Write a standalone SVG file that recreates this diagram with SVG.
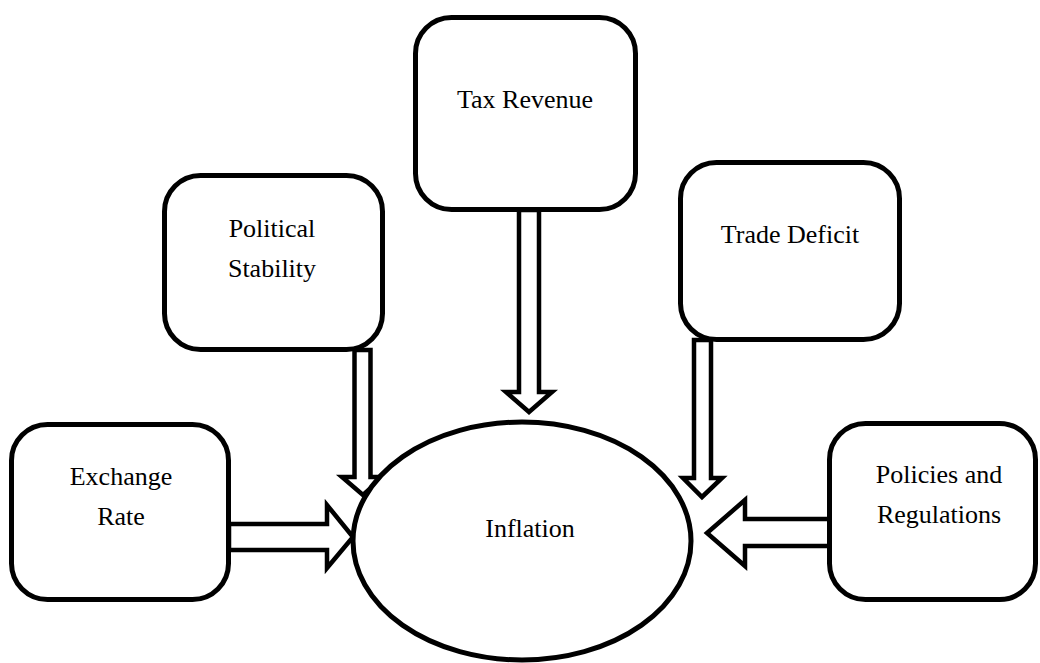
<svg xmlns="http://www.w3.org/2000/svg" width="1040" height="663" viewBox="0 0 1040 663">
<style>
.box{fill:#fff;stroke:#000;stroke-width:5}
.arrow{fill:#fff;stroke:#000;stroke-width:4.5;stroke-linejoin:miter}
.lbl{font-family:"Liberation Serif","Times New Roman",serif;font-size:26px;fill:#000;text-anchor:middle}
</style>
<rect width="1040" height="663" fill="#fff"/>
<g id="connectors">
<polygon class="arrow" points="354.5,350 370.5,350 370.5,477 383,477 363,495 342,477 354.5,477"/>
<polygon class="arrow" points="519,210 539,210 539,392 552,392 529,412 506,392 519,392"/>
<polygon class="arrow" points="694,340 711,340 711,478 722,478 702,497 683,478 694,478"/>
<polygon class="arrow" points="229,524 327,524 327,505 353,537 327,568 327,550 229,550"/>
<polygon class="arrow" points="830,519 745,519 745,500 707,533 745,566 745,546 830,546"/>
</g>
<g id="node-exchange"><rect class="box" x="11.5" y="424.5" width="217" height="175" rx="36"/><text class="lbl" x="121" y="485">Exchange</text><text class="lbl" x="121" y="525">Rate</text></g>
<g id="node-political"><rect class="box" x="164.5" y="175.5" width="218" height="174" rx="36"/><text class="lbl" x="272" y="237">Political</text><text class="lbl" x="272" y="277">Stability</text></g>
<g id="node-tax"><rect class="box" x="415.5" y="17.5" width="220" height="192" rx="36"/><text class="lbl" x="525" y="108">Tax Revenue</text></g>
<g id="node-trade"><rect class="box" x="680.5" y="162.5" width="219" height="177" rx="36"/><text class="lbl" x="790" y="243">Trade Deficit</text></g>
<g id="node-policies"><rect class="box" x="829.5" y="423.5" width="206" height="176" rx="36"/><text class="lbl" x="939" y="483">Policies and</text><text class="lbl" x="939" y="523">Regulations</text></g>
<g id="node-inflation"><ellipse class="box" cx="522" cy="541" rx="169" ry="119"/><text class="lbl" x="530" y="537">Inflation</text></g>
</svg>
